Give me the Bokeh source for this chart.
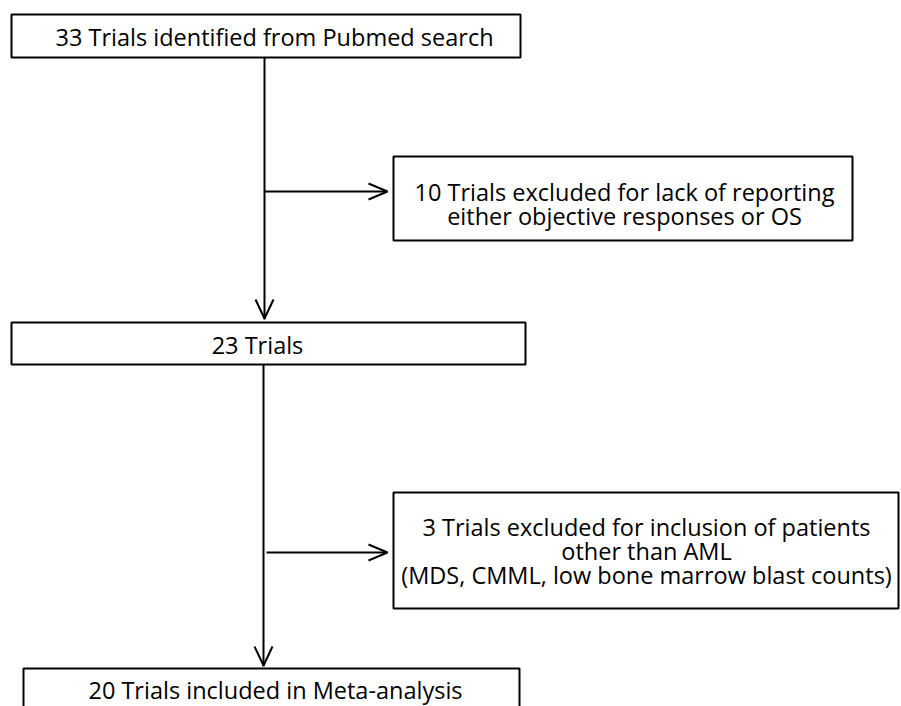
from bokeh.plotting import figure
from bokeh.models import Range1d, ColumnDataSource
from bokeh.core.properties import value
from bokeh.embed import file_html
from bokeh.resources import INLINE

# ---- content ----
box_labels = [
    "33 Trials identified from Pubmed search",
    "10 Trials excluded for lack of reporting\neither objective responses or OS",
    "23 Trials",
    "3 Trials excluded for inclusion of patients\nother than AML\n(MDS, CMML, low bone marrow blast counts)",
    "20 Trials included in Meta-analysis",
]

# ---- layout (image pixel coordinates) ----
box_left = [11, 393, 11, 393, 23]
box_right = [520, 852, 525, 898, 519]
box_top = [14, 156, 322, 492, 668]
box_bottom = [57, 240, 364, 608, 740]
text_x = [274, 624, 257, 646, 275]
text_y0 = [36, 191, 344, 526, 689]
line_h = 24

FONT = "Open Sans"
FS = "23.5px"

W, H = 901, 706
p = figure(width=W, height=H, output_backend="svg", toolbar_location=None,
           x_range=Range1d(0, W), y_range=Range1d(H, 0),
           min_border=0)
p.axis.visible = False
p.grid.visible = False
p.outline_line_color = None
p.background_fill_color = "white"
p.border_fill_color = "white"

# boxes
p.quad(left=box_left, right=box_right, top=box_top, bottom=box_bottom,
       fill_color="white", line_color="black", line_width=2)

# connector lines
p.multi_line(xs=[[264, 264], [264, 386], [263, 263], [266, 386]],
             ys=[[57, 319], [191, 191], [364, 666], [552, 552]],
             line_color="black", line_width=2)
# arrow heads (open V)
p.multi_line(xs=[[255, 264, 273], [368, 387, 368], [254, 263, 272], [368, 387, 368]],
             ys=[[299, 318, 299], [183, 191, 199], [646, 665, 646], [544, 552, 560]],
             line_color="black", line_width=2)

# texts
tx, ty, tt = [], [], []
for lab, x, y in zip(box_labels, text_x, text_y0):
    for i, ln in enumerate(lab.split("\n")):
        tx.append(x)
        ty.append(y + i * line_h)
        tt.append(ln)
src = ColumnDataSource(dict(x=tx, y=ty, t=tt))
p.text(x="x", y="y", text="t", source=src, text_font=value(FONT),
       text_font_size=FS, text_align="center", text_baseline="middle",
       text_color="black")

open("out.html", "w").write(file_html(p, INLINE))
